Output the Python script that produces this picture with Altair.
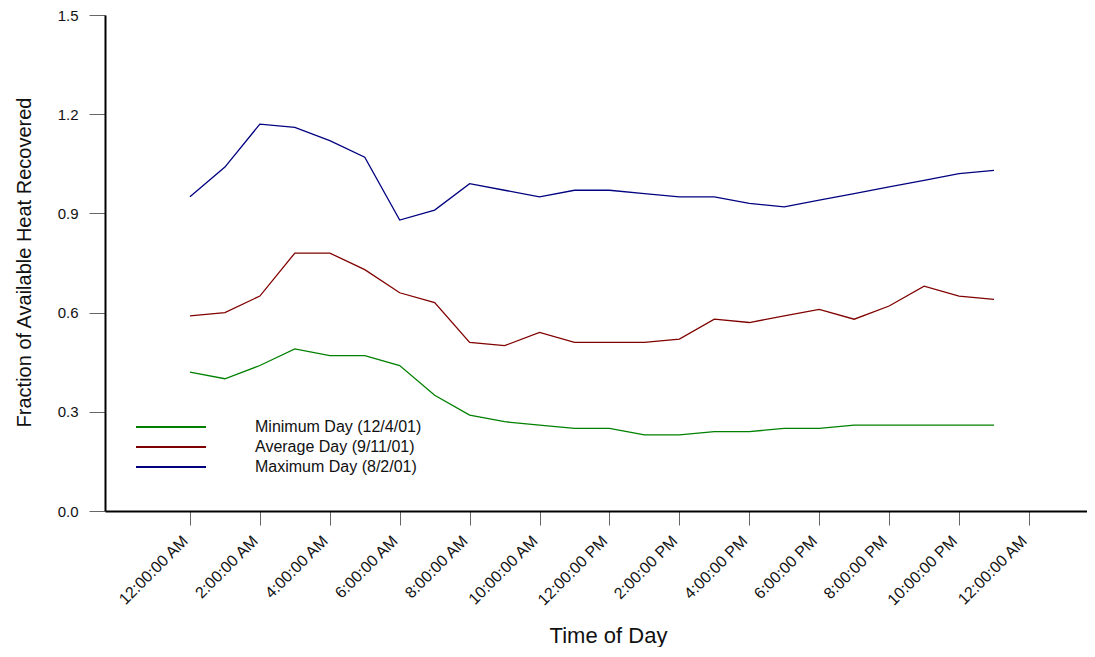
import altair as alt
import pandas as pd

hours = list(range(24))
max_day = [0.95, 1.04, 1.17, 1.16, 1.12, 1.07, 0.88, 0.91, 0.99, 0.97, 0.95, 0.97,
           0.97, 0.96, 0.95, 0.95, 0.93, 0.92, 0.94, 0.96, 0.98, 1.00, 1.02, 1.03]
avg_day = [0.59, 0.60, 0.65, 0.78, 0.78, 0.73, 0.66, 0.63, 0.51, 0.50, 0.54, 0.51,
           0.51, 0.51, 0.52, 0.58, 0.57, 0.59, 0.61, 0.58, 0.62, 0.68, 0.65, 0.64]
min_day = [0.42, 0.40, 0.44, 0.49, 0.47, 0.47, 0.44, 0.35, 0.29, 0.27, 0.26, 0.25,
           0.25, 0.23, 0.23, 0.24, 0.24, 0.25, 0.25, 0.26, 0.26, 0.26, 0.26, 0.26]
series_names = ["Minimum Day (12/4/01)", "Average Day (9/11/01)", "Maximum Day (8/2/01)"]
series_colors = ["#008000", "#800000", "#000080"]
x_ticks = [0, 2, 4, 6, 8, 10, 12, 14, 16, 18, 20, 22, 24]
y_ticks = [0.0, 0.3, 0.6, 0.9, 1.2, 1.5]

rows = []
for name, vals in zip(series_names, [min_day, avg_day, max_day]):
    for h, v in zip(hours, vals):
        rows.append({"hour": h, "value": v, "series": name})
df = pd.DataFrame(rows)

FONT = "Liberation Sans"

chart = alt.Chart(df).mark_line(strokeWidth=1.3).encode(
    x=alt.X("hour:Q",
            scale=alt.Scale(domain=[-2.43, 25.66], nice=False, zero=False),
            axis=alt.Axis(values=x_ticks, title="Time of Day", labelOverlap=False,
                          labelExpr="(datum.value % 12 == 0 ? 12 : datum.value % 12) + ':00:00 ' + (datum.value % 24 < 12 ? 'AM' : 'PM')",
                          labelAngle=-45, labelAlign="right", labelBaseline="middle",
                          labelPadding=13, labelOffset=-5, tickSize=14, tickColor="#666666",
                          domainWidth=2, domainColor="#000000",
                          labelFontSize=16, labelColor="#111111", labelFont=FONT,
                          titleFontSize=22, titleFont=FONT, titleFontWeight="normal",
                          titleX=503, titleY=131, titleAlign="center",
                          titleBaseline="alphabetic", titleColor="#111111")),
    y=alt.Y("value:Q",
            scale=alt.Scale(domain=[0, 1.5], nice=False, zero=True),
            axis=alt.Axis(values=y_ticks, format=".1f",
                          title="Fraction of Available Heat Recovered",
                          tickSize=16, tickColor="#666666", labelPadding=11,
                          domainWidth=2, domainColor="#000000",
                          labelFontSize=15, labelColor="#111111", labelFont=FONT,
                          titleFontSize=20, titleFont=FONT, titleFontWeight="normal",
                          titleAngle=-90, titleX=-81, titleY=247,
                          titleAlign="center", titleBaseline="middle",
                          titleColor="#111111")),
    color=alt.Color("series:N",
                    scale=alt.Scale(domain=series_names, range=series_colors),
                    sort=series_names,
                    legend=alt.Legend(title=None, orient="none", legendX=28, legendY=404,
                                      symbolType="M-1,0H13", symbolStrokeWidth=2,
                                      symbolSize=100, labelFontSize=16, labelFont=FONT,
                                      labelColor="#111111", labelOffset=106, rowPadding=4,
                                      labelLimit=400)),
).properties(
    width=982, height=496,
    autosize=alt.AutoSizeParams(type="none"),
    padding={"left": 97, "top": 7, "right": 0, "bottom": 136},
).configure_view(stroke=None).configure_axis(grid=False)

chart.save("out.html", embed_options={"renderer": "svg", "actions": False})
